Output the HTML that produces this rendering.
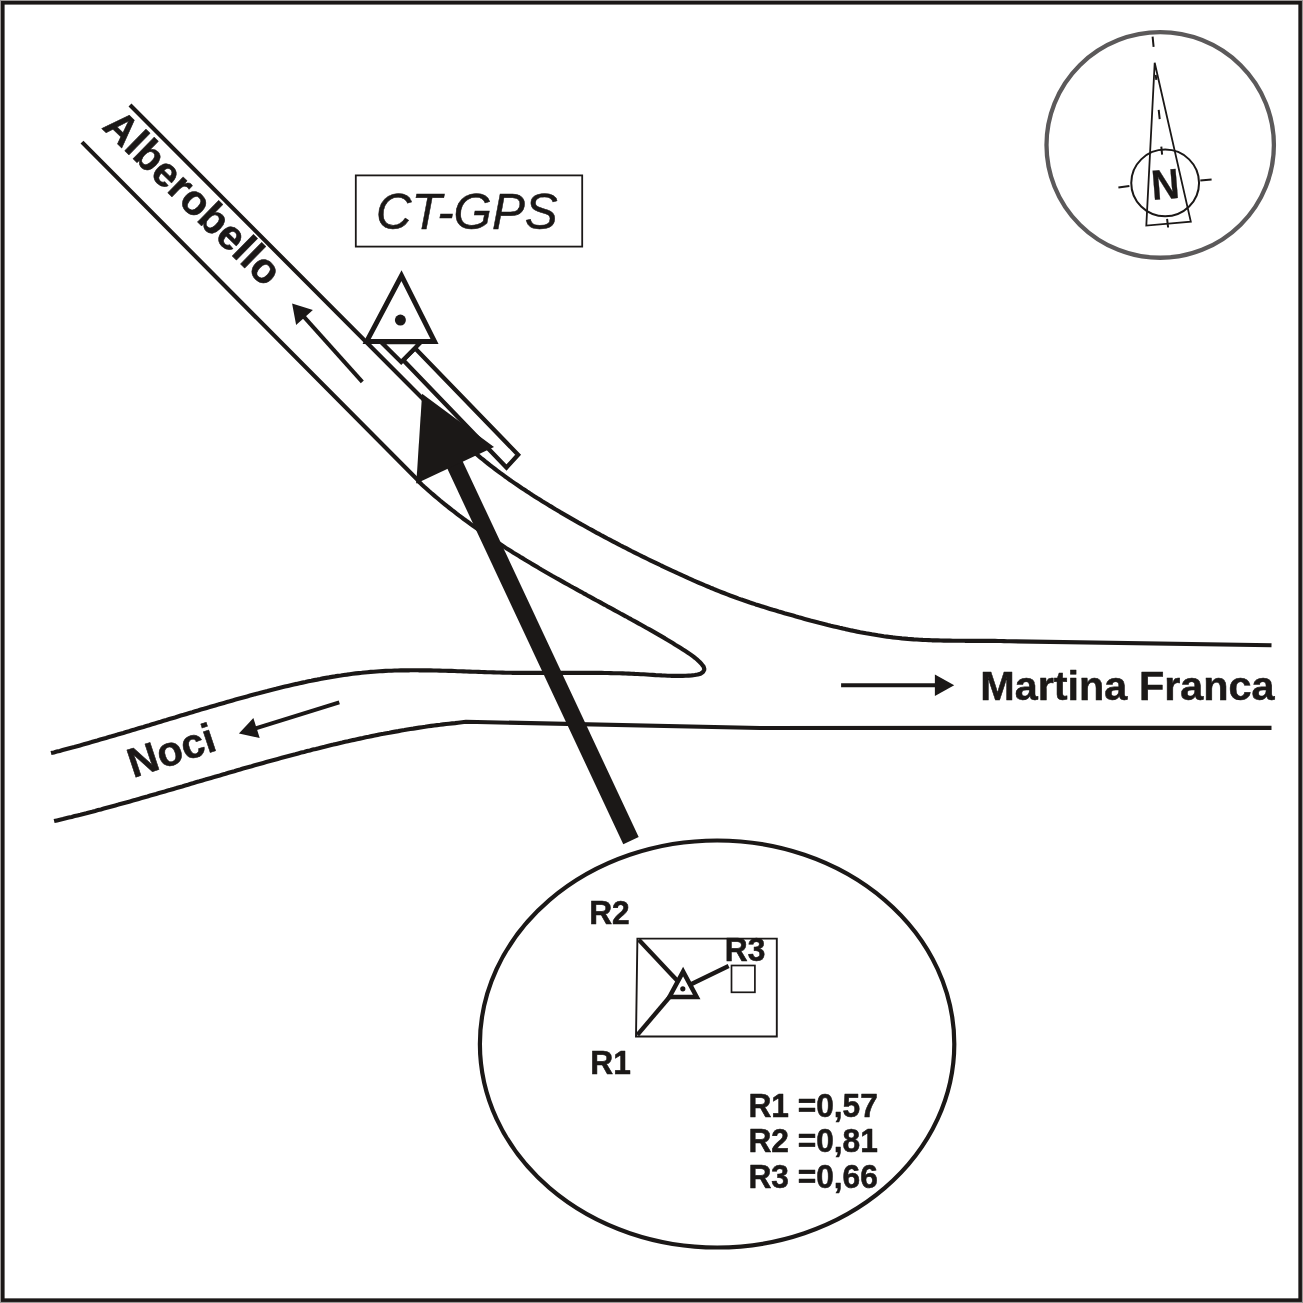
<!DOCTYPE html>
<html lang="it"><head><meta charset="utf-8"><title>CT-GPS</title>
<style>html,body{margin:0;padding:0;background:#fff;overflow:hidden}svg{display:block;will-change:transform}</style>
</head><body>
<svg width="1303" height="1303" viewBox="0 0 1303 1303">
<rect width="1303" height="1303" fill="#fff"/>
<rect x="0.5" y="0.5" width="1302" height="1302" fill="#fff" stroke="#9b9796" stroke-width="1"/>
<rect x="2.8" y="2.8" width="1297.35" height="1297.35" fill="none" stroke="#1b1817" stroke-width="3.6"/>
<g fill="none" stroke="#1b1817" stroke-width="4.15" stroke-linecap="butt" stroke-linejoin="bevel">
<path d="M130 105 L422.0 398.0 L422.1 397.8 L423.9 400.2 L425.8 402.5 L427.7 404.9 L429.6 407.2 L431.5 409.5 L433.4 411.8 L435.4 414.1 L437.4 416.4 L439.4 418.6 L441.4 420.8 L443.5 423.0 L445.5 425.2 L447.6 427.4 L449.7 429.5 L451.8 431.7 L454.0 433.8 L456.1 435.9 L458.3 438.0 L460.5 440.0 L462.7 442.1 L464.9 444.1 L467.1 446.1 L469.4 448.1 L471.6 450.1 L473.9 452.1 L476.2 454.0 L478.5 455.9 L480.8 457.8 L483.2 459.7 L485.5 461.6 L487.9 463.5 L490.2 465.3 L492.6 467.2 L495.0 469.0 L497.4 470.8 L499.8 472.6 L502.3 474.4 L504.7 476.2 L507.1 477.9 L509.6 479.7 L512.0 481.4 L514.5 483.1 L517.0 484.8 L519.5 486.5 L522.0 488.2 L524.5 489.8 L527.0 491.5 L529.5 493.1 L532.0 494.8 L534.6 496.4 L537.1 498.0 L539.7 499.6 L542.2 501.2 L544.8 502.8 L547.3 504.3 L549.9 505.9 L552.5 507.4 L555.0 509.0 L557.6 510.5 L560.2 512.1 L562.8 513.6 L565.4 515.1 L568.0 516.6 L570.6 518.1 L573.2 519.6 L575.8 521.1 L578.4 522.6 L581.1 524.1 L583.7 525.5 L586.3 527.0 L588.9 528.5 L591.6 529.9 L594.2 531.4 L596.8 532.8 L599.5 534.2 L602.1 535.7 L604.8 537.1 L607.4 538.5 L610.1 539.9 L612.8 541.3 L615.4 542.7 L618.1 544.1 L620.7 545.5 L623.4 546.9 L626.1 548.2 L628.8 549.6 L631.5 551.0 L634.1 552.3 L636.8 553.7 L639.5 555.0 L642.2 556.4 L644.9 557.7 L647.6 559.0 L650.3 560.3 L653.0 561.6 L655.7 562.9 L658.4 564.2 L661.1 565.5 L663.9 566.8 L666.6 568.1 L669.3 569.4 L672.0 570.7 L674.8 571.9 L677.5 573.2 L680.2 574.4 L683.0 575.7 L685.7 576.9 L688.4 578.2 L691.2 579.4 L693.9 580.6 L696.7 581.8 L699.4 583.0 L702.2 584.2 L705.0 585.4 L707.7 586.5 L710.5 587.7 L713.3 588.8 L716.1 590.0 L718.9 591.1 L721.7 592.2 L724.5 593.3 L727.3 594.4 L730.1 595.5 L732.9 596.5 L735.7 597.5 L738.6 598.6 L741.4 599.6 L744.2 600.5 L747.1 601.5 L749.9 602.5 L752.8 603.4 L755.6 604.4 L758.5 605.3 L761.4 606.2 L764.2 607.1 L767.1 608.0 L770.0 608.9 L772.9 609.8 L775.7 610.6 L778.6 611.5 L781.5 612.3 L784.4 613.2 L787.3 614.0 L790.2 614.8 L793.1 615.6 L796.0 616.5 L798.8 617.3 L801.7 618.1 L804.6 618.9 L807.5 619.7 L810.4 620.5 L813.4 621.2 L816.3 622.0 L819.2 622.8 L822.1 623.5 L825.0 624.2 L827.9 625.0 L830.8 625.7 L833.8 626.4 L836.7 627.1 L839.6 627.8 L842.5 628.4 L845.5 629.1 L848.4 629.7 L851.4 630.4 L854.3 631.0 L857.2 631.6 L860.2 632.2 L863.1 632.7 L866.1 633.3 L869.1 633.8 L872.0 634.3 L875.0 634.8 L878.0 635.3 L880.9 635.7 L883.9 636.2 L886.9 636.6 L889.9 637.0 L892.8 637.4 L895.8 637.7 L898.8 638.0 L901.8 638.4 L904.8 638.6 L907.8 638.9 L910.8 639.1 L913.8 639.4 L916.8 639.5 L919.8 639.7 L922.8 639.9 L925.8 640.0 L928.8 640.1 L931.8 640.3 L934.8 640.3 L937.8 640.4 L940.8 640.5 L943.8 640.6 L946.8 640.6 L949.9 640.6 L952.9 640.7 L955.9 640.7 L958.9 640.7 L961.9 640.7 L964.9 640.8 L967.9 640.8 L970.9 640.8 L973.9 640.8 L976.9 640.8 L979.9 640.8 L982.9 640.8 L985.9 640.8 L988.9 640.9 L991.9 640.9 L995.0 640.9 L998.0 641.0 L1001.0 641.0 L1004.0 641.1 L1007.0 641.2 L1010.0 641.3 L1271.5 645.2"/>
<path d="M82 142.1 L418.0 480.2 L417.6 480.6 L419.8 482.6 L422.0 484.7 L424.2 486.7 L426.5 488.7 L428.7 490.7 L431.0 492.7 L433.2 494.6 L435.5 496.6 L437.8 498.5 L440.1 500.5 L442.4 502.4 L444.8 504.3 L447.1 506.2 L449.4 508.0 L451.8 509.9 L454.2 511.7 L456.6 513.6 L458.9 515.4 L461.3 517.2 L463.7 519.0 L466.2 520.8 L468.6 522.5 L471.0 524.3 L473.4 526.1 L475.9 527.8 L478.4 529.5 L480.8 531.2 L483.3 532.9 L485.8 534.6 L488.2 536.3 L490.7 538.0 L493.2 539.7 L495.7 541.3 L498.3 543.0 L500.8 544.6 L503.3 546.2 L505.8 547.9 L508.4 549.5 L510.9 551.1 L513.4 552.7 L516.0 554.2 L518.6 555.8 L521.1 557.4 L523.7 558.9 L526.2 560.5 L528.8 562.0 L531.4 563.6 L534.0 565.1 L536.6 566.6 L539.2 568.2 L541.7 569.7 L544.3 571.2 L546.9 572.7 L549.5 574.2 L552.1 575.7 L554.8 577.2 L557.4 578.7 L560.0 580.1 L562.6 581.6 L565.2 583.1 L567.8 584.5 L570.4 586.0 L573.1 587.5 L575.7 588.9 L578.3 590.4 L581.0 591.8 L583.6 593.3 L586.2 594.7 L588.8 596.2 L591.5 597.6 L594.1 599.1 L596.7 600.5 L599.4 601.9 L602.0 603.4 L604.6 604.8 L607.3 606.3 L609.9 607.7 L612.6 609.1 L615.2 610.6 L617.8 612.0 L620.5 613.5 L623.1 614.9 L625.7 616.3 L628.4 617.8 L631.0 619.2 L633.6 620.7 L636.3 622.1 L638.9 623.6 L641.5 625.0 L644.1 626.5 L646.7 628.0 L649.4 629.4 L652.0 630.9 L654.6 632.4 L657.2 633.9 L659.8 635.4 L662.4 636.9 L665.0 638.4 L667.6 640.0 L670.1 641.5 L672.7 643.1 L675.2 644.7 L677.8 646.2 L680.3 647.8 L682.9 649.5 L685.4 651.1 L687.9 652.7 L690.4 654.4 L692.8 656.2 L695.2 658.0 L697.5 659.9 L699.7 662.0 L701.7 664.2 L703.6 666.6 L704.4 669.4 L703.0 672.0 L700.5 673.7 L697.7 674.5 L694.7 675.0 L691.7 675.4 L688.7 675.6 L685.7 675.8 L682.7 675.9 L679.7 675.9 L676.7 675.9 L673.7 675.8 L670.7 675.8 L667.7 675.7 L664.7 675.5 L661.7 675.4 L658.7 675.2 L655.7 675.1 L652.7 674.9 L649.7 674.7 L646.7 674.5 L643.7 674.3 L640.7 674.2 L637.7 674.0 L634.7 673.9 L631.7 673.7 L628.7 673.6 L625.7 673.5 L622.7 673.4 L619.7 673.3 L616.7 673.2 L613.7 673.2 L610.7 673.1 L607.7 673.0 L604.7 673.0 L601.7 672.9 L598.7 672.9 L595.7 672.9 L592.7 672.9 L589.7 672.8 L586.7 672.8 L583.7 672.8 L580.7 672.8 L577.7 672.8 L574.7 672.8 L571.7 672.8 L568.7 672.8 L565.7 672.8 L562.7 672.9 L559.7 672.9 L556.7 672.9 L553.7 672.9 L550.7 672.9 L547.7 672.9 L544.7 672.9 L541.7 672.9 L538.7 672.9 L535.7 672.9 L532.7 672.9 L529.7 672.9 L526.7 672.9 L523.7 672.9 L520.7 672.9 L517.7 672.9 L514.7 672.8 L511.7 672.8 L508.7 672.7 L505.7 672.7 L502.7 672.6 L499.6 672.5 L496.6 672.5 L493.6 672.4 L490.6 672.3 L487.6 672.2 L484.6 672.1 L481.6 672.0 L478.6 671.9 L475.6 671.8 L472.6 671.7 L469.6 671.6 L466.6 671.5 L463.6 671.4 L460.6 671.3 L457.6 671.2 L454.6 671.0 L451.6 670.9 L448.6 670.9 L445.6 670.8 L442.6 670.7 L439.6 670.6 L436.6 670.5 L433.6 670.5 L430.6 670.4 L427.6 670.3 L424.6 670.3 L421.6 670.3 L418.6 670.3 L415.6 670.2 L412.6 670.2 L409.6 670.3 L406.6 670.3 L403.6 670.3 L400.6 670.4 L397.6 670.5 L394.6 670.5 L391.6 670.7 L388.6 670.8 L385.6 670.9 L382.6 671.1 L379.6 671.3 L376.6 671.5 L373.6 671.7 L370.6 671.9 L367.6 672.2 L364.6 672.5 L361.7 672.8 L358.7 673.1 L355.7 673.4 L352.7 673.8 L349.7 674.2 L346.8 674.6 L343.8 675.0 L340.8 675.5 L337.8 675.9 L334.9 676.4 L331.9 676.9 L329.0 677.4 L326.0 677.9 L323.0 678.4 L320.1 679.0 L317.1 679.6 L314.2 680.1 L311.3 680.7 L308.3 681.3 L305.4 682.0 L302.4 682.6 L299.5 683.2 L296.6 683.9 L293.7 684.5 L290.7 685.2 L287.8 685.9 L284.9 686.6 L282.0 687.3 L279.1 688.0 L276.1 688.8 L273.2 689.5 L270.3 690.2 L267.4 691.0 L264.5 691.7 L261.6 692.5 L258.7 693.3 L255.8 694.0 L252.9 694.8 L250.0 695.6 L247.1 696.4 L244.2 697.2 L241.3 698.0 L238.4 698.8 L235.5 699.6 L232.6 700.4 L229.8 701.3 L226.9 702.1 L224.0 702.9 L221.1 703.7 L218.2 704.6 L215.3 705.4 L212.4 706.2 L209.6 707.1 L206.7 707.9 L203.8 708.8 L200.9 709.6 L198.0 710.5 L195.2 711.3 L192.3 712.2 L189.4 713.0 L186.5 713.9 L183.7 714.8 L180.8 715.6 L177.9 716.5 L175.0 717.4 L172.2 718.2 L169.3 719.1 L166.4 720.0 L163.5 720.8 L160.7 721.7 L157.8 722.6 L154.9 723.4 L152.0 724.3 L149.2 725.2 L146.3 726.0 L143.4 726.9 L140.5 727.7 L137.7 728.6 L134.8 729.5 L131.9 730.3 L129.0 731.2 L126.1 732.0 L123.3 732.9 L120.4 733.7 L117.5 734.6 L114.6 735.4 L111.7 736.3 L108.9 737.1 L106.0 738.0 L103.1 738.8 L100.2 739.6 L97.3 740.5 L94.4 741.3 L91.6 742.1 L88.7 742.9 L85.8 743.7 L82.9 744.6 L80.0 745.4 L77.1 746.2 L74.2 747.0 L71.3 747.7 L68.4 748.5 L65.5 749.3 L62.6 750.1 L59.7 750.9 L56.8 751.6 L53.9 752.4 L51.0 753.1"/>
<path d="M54.1 821.1 L57.0 820.4 L59.9 819.7 L62.9 819.0 L65.8 818.3 L68.7 817.6 L71.7 816.9 L74.6 816.1 L77.5 815.4 L80.4 814.7 L83.4 813.9 L86.3 813.2 L89.2 812.4 L92.1 811.7 L95.1 810.9 L98.0 810.1 L100.9 809.4 L103.8 808.6 L106.7 807.8 L109.6 807.0 L112.5 806.2 L115.4 805.4 L118.4 804.6 L121.3 803.8 L124.2 803.0 L127.1 802.2 L130.0 801.4 L132.9 800.6 L135.8 799.8 L138.7 798.9 L141.6 798.1 L144.5 797.3 L147.4 796.5 L150.3 795.6 L153.2 794.8 L156.1 794.0 L159.0 793.1 L161.9 792.3 L164.8 791.5 L167.7 790.6 L170.6 789.8 L173.5 788.9 L176.4 788.1 L179.3 787.2 L182.2 786.4 L185.1 785.5 L188.0 784.7 L190.9 783.8 L193.7 783.0 L196.6 782.1 L199.5 781.3 L202.4 780.4 L205.3 779.6 L208.2 778.7 L211.1 777.9 L214.0 777.1 L216.9 776.2 L219.8 775.4 L222.7 774.5 L225.6 773.7 L228.5 772.8 L231.4 772.0 L234.3 771.2 L237.2 770.3 L240.1 769.5 L243.0 768.6 L245.9 767.8 L248.8 767.0 L251.7 766.2 L254.6 765.3 L257.5 764.5 L260.4 763.7 L263.3 762.9 L266.2 762.1 L269.1 761.3 L272.0 760.5 L274.9 759.7 L277.8 758.9 L280.8 758.1 L283.7 757.3 L286.6 756.5 L289.5 755.7 L292.4 754.9 L295.3 754.2 L298.2 753.4 L301.2 752.6 L304.1 751.9 L307.0 751.1 L309.9 750.4 L312.8 749.6 L315.8 748.9 L318.7 748.2 L321.6 747.4 L324.6 746.7 L327.5 746.0 L330.4 745.3 L333.4 744.6 L336.3 743.9 L339.2 743.2 L342.2 742.5 L345.1 741.8 L348.0 741.2 L351.0 740.5 L353.9 739.9 L356.9 739.2 L359.8 738.6 L362.8 738.0 L365.7 737.3 L368.7 736.7 L371.6 736.1 L374.6 735.5 L377.6 734.9 L380.5 734.3 L383.5 733.8 L386.4 733.2 L389.4 732.7 L392.4 732.1 L395.3 731.6 L398.3 731.1 L401.3 730.5 L404.3 730.0 L407.2 729.5 L410.2 729.0 L413.2 728.6 L416.2 728.1 L419.2 727.6 L422.1 727.2 L425.1 726.8 L428.1 726.3 L431.1 725.9 L434.1 725.5 L437.1 725.1 L440.1 724.8 L443.1 724.4 L446.1 724.0 L449.1 723.7 L452.1 723.4 L455.1 723.1 L458.1 722.7 L465.9 721.8 L760 728 L1271.5 727.9"/>
</g>
<g fill="#fff" stroke="#1b1817" stroke-width="4.3">
<polygon points="403.1,360.1 415.1,348.3 518.1,454.7 506.5,467.5"/>
<polygon points="381,342 401.2,362 421,342"/>
</g>
<polygon points="401.5,275.6 366.7,341.4 434.5,341.4" fill="#fff" stroke="#1b1817" stroke-width="5" stroke-linejoin="miter"/>
<circle cx="400.4" cy="320.1" r="5.5" fill="#1b1817"/>
<rect x="355.8" y="175.4" width="226.4" height="71.2" fill="#fff" stroke="#1b1817" stroke-width="1.8"/>
<text x="376" y="229.2" font-family="'Liberation Sans', sans-serif" font-style="italic" font-size="49.3" fill="#1b1817" stroke="#1b1817" stroke-width="0.5">CT-GPS</text>
<line x1="362.3" y1="381.9" x2="303.8" y2="316.6" stroke="#1b1817" stroke-width="4.0"/><polygon points="292.1,303.5 312.9,309.9 296.1,324.9" fill="#1b1817"/>
<line x1="339.3" y1="702.3" x2="255.6" y2="728.4" stroke="#1b1817" stroke-width="4.0"/><polygon points="238.9,733.6 253.4,718.1 259.7,738.1" fill="#1b1817"/>
<line x1="841.1" y1="685.3" x2="935.9" y2="685.3" stroke="#1b1817" stroke-width="4.0"/><polygon points="954.2,685.3 934.9,696.0 934.9,674.5" fill="#1b1817"/>
<text transform="translate(101.1 127.7) rotate(44.35)" font-size="41.7" font-family="'Liberation Sans', sans-serif" font-weight="bold" fill="#1b1817" stroke="#1b1817" stroke-width="0.55" stroke-linejoin="round">Alberobello</text>
<text transform="translate(133.3 778.1) rotate(-18.4)" font-size="41.4" font-family="'Liberation Sans', sans-serif" font-weight="bold" fill="#1b1817" stroke="#1b1817" stroke-width="0.55" stroke-linejoin="round">Noci</text>
<text x="980.2" y="700.1" font-size="41.4" font-family="'Liberation Sans', sans-serif" font-weight="bold" fill="#1b1817" stroke="#1b1817" stroke-width="0.55" stroke-linejoin="round">Martina Franca</text>
<polygon points="446.6,467.1 462.0,459.9 638.7,837.1 623.3,844.3" fill="#1b1817"/>
<polygon points="422.1,393.8 416.3,483.6 494.0,447.0" fill="#1b1817"/>
<ellipse cx="717.1" cy="1044" rx="237.2" ry="203.5" fill="none" stroke="#1b1817" stroke-width="4.2"/>
<polygon points="637.4,938.6 776.8,938.6 776.8,1036.5 636,1036.5" fill="none" stroke="#1b1817" stroke-width="1.9"/>
<rect x="731.5" y="965.5" width="23.4" height="26.8" fill="none" stroke="#1b1817" stroke-width="1.7"/>
<g stroke="#1b1817" stroke-width="4.3" fill="none"><line x1="638.8" y1="939.8" x2="679" y2="982.5"/><line x1="637.4" y1="1034.9" x2="670" y2="996.5"/><line x1="690" y1="984.8" x2="728.6" y2="966"/></g>
<polygon points="683.1,971.6 669.4,997 696.7,997" fill="#fff" stroke="#1b1817" stroke-width="4.5"/>
<circle cx="682.8" cy="988.8" r="2.6" fill="#1b1817"/>
<text transform="translate(589.2 924.0) scale(1 1.030)" font-size="31.7" font-family="'Liberation Sans', sans-serif" font-weight="bold" fill="#1b1817" stroke="#1b1817" stroke-width="0.55" stroke-linejoin="round">R2</text>
<text transform="translate(590.3 1073.6) scale(1 1.030)" font-size="31.7" font-family="'Liberation Sans', sans-serif" font-weight="bold" fill="#1b1817" stroke="#1b1817" stroke-width="0.55" stroke-linejoin="round">R1</text>
<text transform="translate(724.8 960.7) scale(1 1.030)" font-size="31.7" font-family="'Liberation Sans', sans-serif" font-weight="bold" fill="#1b1817" stroke="#1b1817" stroke-width="0.55" stroke-linejoin="round">R3</text>
<text transform="translate(748.4 1116.9) scale(1 1.030)" font-size="31.7" font-family="'Liberation Sans', sans-serif" font-weight="bold" fill="#1b1817" stroke="#1b1817" stroke-width="0.55" stroke-linejoin="round">R1 =0,57</text>
<text transform="translate(748.4 1151.9) scale(1 1.030)" font-size="31.7" font-family="'Liberation Sans', sans-serif" font-weight="bold" fill="#1b1817" stroke="#1b1817" stroke-width="0.55" stroke-linejoin="round">R2 =0,81</text>
<text transform="translate(748.4 1187.7) scale(1 1.030)" font-size="31.7" font-family="'Liberation Sans', sans-serif" font-weight="bold" fill="#1b1817" stroke="#1b1817" stroke-width="0.55" stroke-linejoin="round">R3 =0,66</text>
<ellipse cx="1160.2" cy="144.95" rx="113.7" ry="112.8" fill="none" stroke="#5b595a" stroke-width="4.3"/>
<g fill="none" stroke="#1b1817" stroke-width="1.8">
<ellipse cx="1165.15" cy="182.9" rx="33.9" ry="33.3" stroke-width="2"/>
<polygon points="1154.7,62.8 1146.3,225.6 1190.8,221.6" stroke-linejoin="miter" stroke-miterlimit="3"/>
<path stroke-width="2" d="M1152.6 36.6L1153.6 46.9M1155.7 74.9L1156.3 79.9M1158.7 109.8L1159.7 119.2M1161.3 146.7L1162.1 154.7M1167.1 218.9L1168.1 227.5M1118.4 187.6L1129.4 186M1200.3 180.6L1211.6 179.6"/>
</g>
<text transform="translate(1165.4 184.3) rotate(-4.6) scale(0.97 1.06)" text-anchor="middle" y="13.8" font-size="40" font-family="'Liberation Sans', sans-serif" font-weight="bold" fill="#1b1817" stroke="#1b1817" stroke-width="0.3">N</text>
</svg>
</body></html>
